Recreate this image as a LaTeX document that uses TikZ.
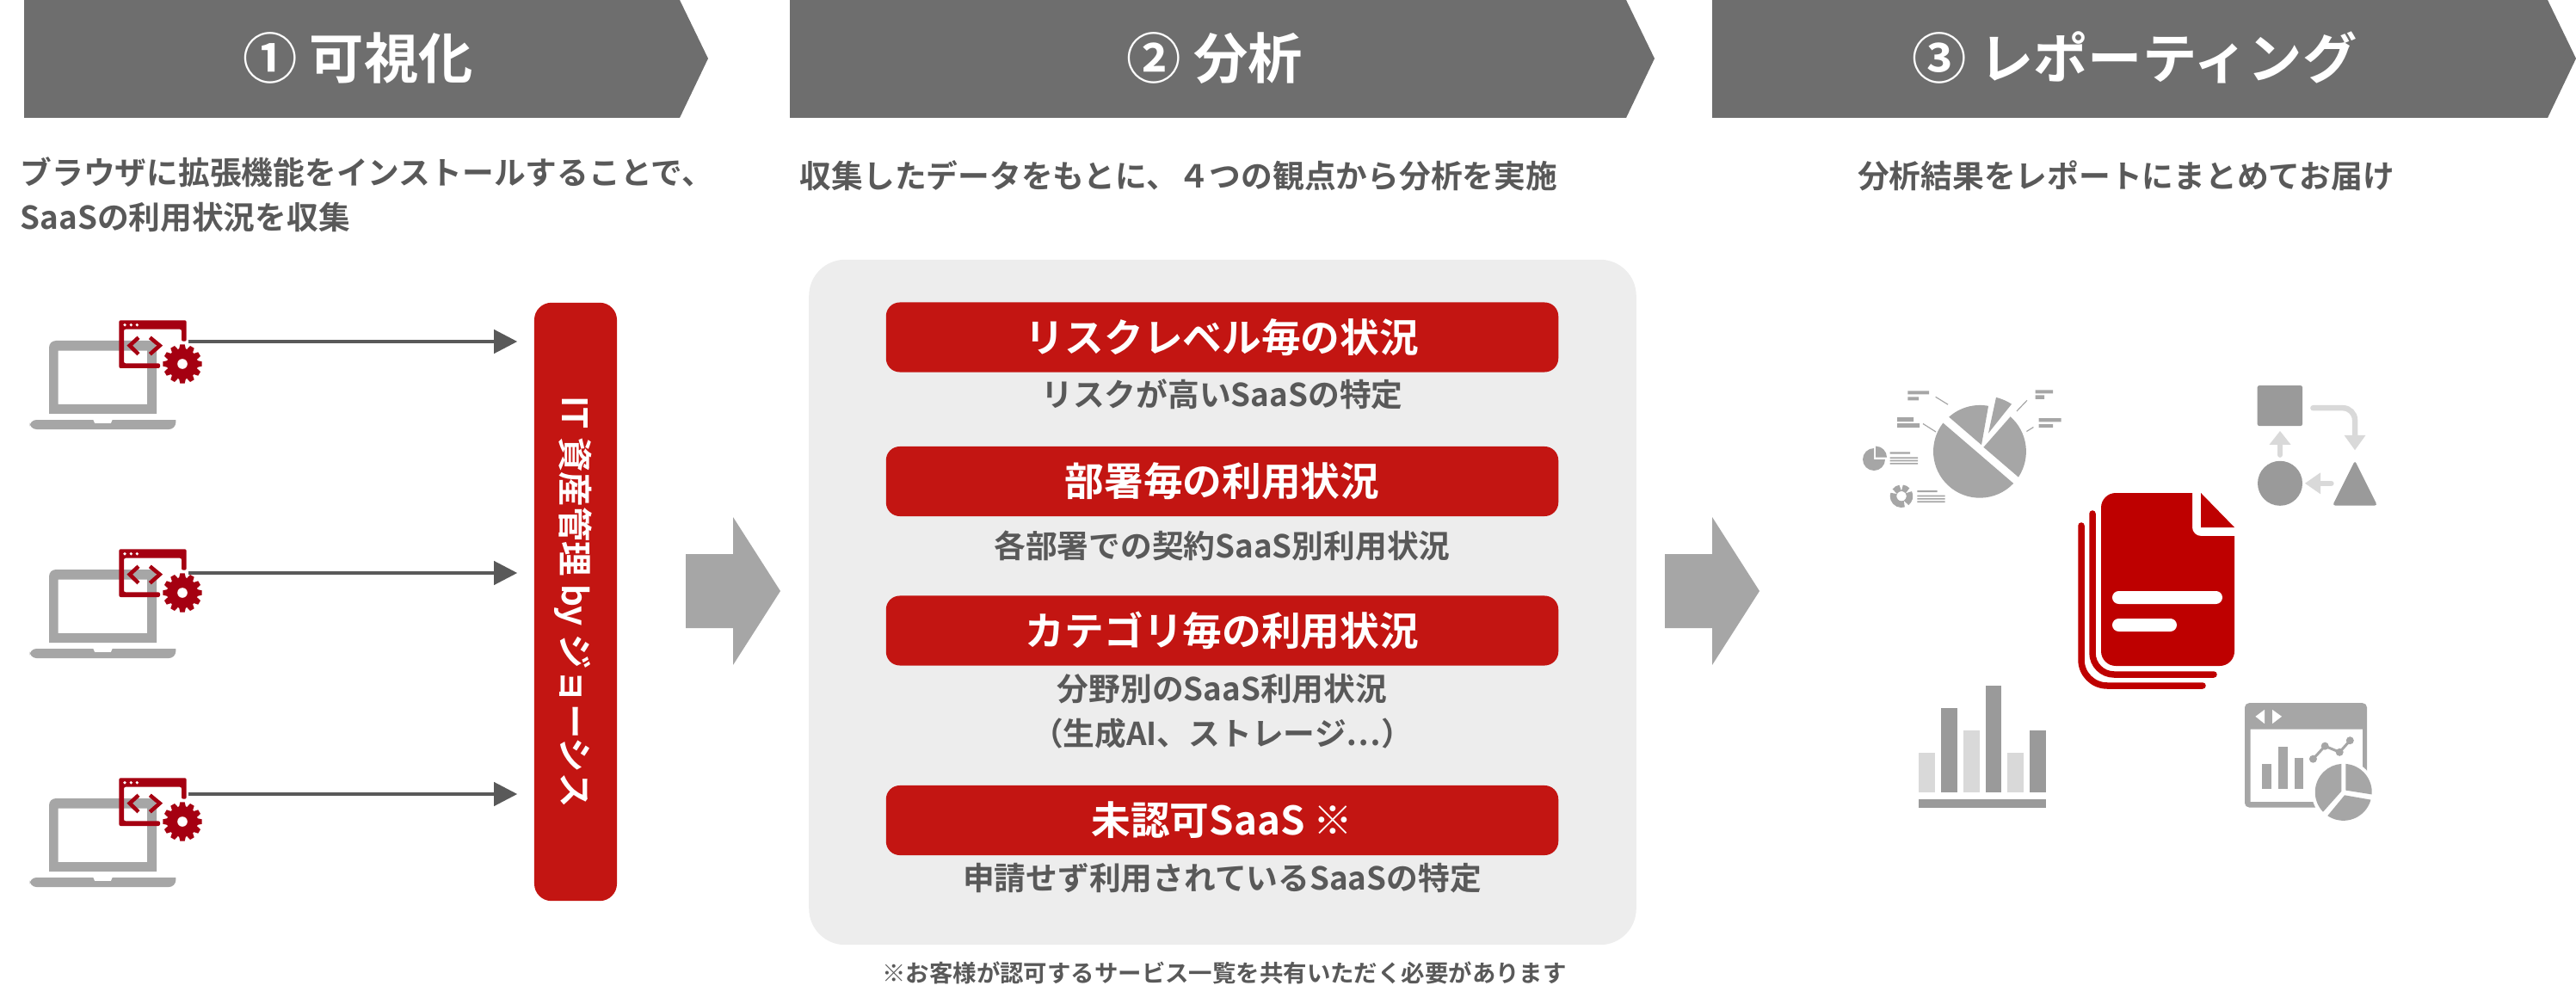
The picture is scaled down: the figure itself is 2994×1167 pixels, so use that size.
\documentclass[tikz,border=0pt]{standalone}
\usepackage{fontspec}
\usepackage{tikz}
\usetikzlibrary{arrows.meta}
\setmainfont{Noto Sans CJK JP}[BoldFont={Noto Sans CJK JP Bold}]

\definecolor{headgray}{HTML}{6E6E6E}
\definecolor{textgray}{HTML}{595959}
\definecolor{icongray}{HTML}{A6A6A6}
\definecolor{shapegray}{HTML}{9A9A9A}
\definecolor{palegray}{HTML}{D9D9D9}
\definecolor{panelgray}{HTML}{EDEDED}
\definecolor{btnred}{HTML}{C31512}
\definecolor{winered}{HTML}{A50011}
\definecolor{docred}{HTML}{BE0000}

\tikzset{
  headshape/.style={fill=headgray},
  headtext/.style={text=white, inner sep=0pt, text height=15.8pt, text depth=2.2pt, font=\bfseries\fontsize{18}{21}\selectfont},
  subtext/.style={text=textgray, inner sep=0pt, text height=9.2pt, text depth=1.2pt, font=\bfseries\fontsize{10.45}{14.6}\selectfont},
  notetext/.style={text=textgray, inner sep=0pt, text height=6.9pt, text depth=0.9pt, font=\bfseries\fontsize{7.8}{10}\selectfont},
  btnbox/.style={fill=btnred, text=white, rounded corners=0.16cm, inner sep=0pt, text height=11.4pt, text depth=1.6pt, minimum width=7.81cm, minimum height=0.81cm, font=\bfseries\fontsize{13}{16}\selectfont},
  panelbox/.style={fill=panelgray, rounded corners=0.42cm, minimum width=9.61cm, minimum height=7.96cm},
  barbox/.style={fill=btnred, text=white, rounded corners=0.2cm, inner sep=0pt, text height=10.1pt, text depth=1.4pt, minimum width=6.95cm, minimum height=0.96cm, rotate=-90, font=\bfseries\fontsize{11.5}{14}\selectfont},
  bigarrow/.style={fill=icongray},
  flow/.style={draw=textgray, line width=0.04cm, shorten >=0.19cm, -{Triangle[length=0.27cm,width=0.27cm]}},
  hairline/.style={draw=icongray, line width=0.012cm},
  ringseg/.style={draw=icongray, line width=0.075cm},
  palearrow/.style={draw=palegray, line width=0.065cm, line cap=round, rounded corners=0.14cm},
  docstroke/.style={draw=docred, line width=0.075cm, line cap=round},
  slit/.style={fill=white, rounded corners=0.075cm},
  laptop/.pic={
    \fill[icongray,even odd rule] (57,481) [rounded corners=0.08cm] -- (57,396) -- (182,396) [sharp corners] -- (182,481) -- cycle (67.7,407.7) rectangle (171,470);
    \fill[icongray,rounded corners=0.06cm] (34.5,488) [sharp corners] -- (108.3,488) -- (110,492) -- (129,492) -- (130.7,488) -- (204.3,488) [rounded corners=0.08cm] -- (204.3,499) -- (34.5,499) -- cycle;
    \fill[winered,rounded corners=0.02cm] (138.3,372.3) -- (216.7,372.3) -- (216.7,396.7) -- (211,396.7) -- (211,382.7) -- (144,382.7) -- (144,422.3) -- (186,422.3) -- (186,428) -- (138.3,428) -- cycle;
    \fill[white] (145,377.7) circle (0.018cm) (152.3,377.7) circle (0.018cm) (159.3,377.7) circle (0.018cm);
    \draw[winered,line width=0.045cm] (161,392.3) -- (150.7,401.7) -- (161,411.7);
    \draw[winered,line width=0.045cm] (174.3,392.3) -- (185.7,401.7) -- (174.3,411.7);
    \fill[winered] (212,423) circle (0.18cm);
    \foreach \a in {0,30,...,330}
      \fill[winered,rotate around={\a:(212,423)}] (207.8,407) -- (209.3,400.3) -- (214.7,400.3) -- (216.2,407) -- cycle;
    \fill[white] (212,423) circle (0.058cm);
  }
}

\begin{document}
\begin{tikzpicture}[x=0.01cm,y=-0.01cm]
\useasboundingbox (0,0) rectangle (2994,1167);
% headers
\fill[headshape] (28,0) -- (790,0) -- (823,68) -- (790,137) -- (28,137) -- cycle;
\fill[headshape] (918,0) -- (1890,0) -- (1923,68) -- (1890,137) -- (918,137) -- cycle;
\fill[headshape] (1990,0) -- (2961,0) -- (2994,68) -- (2961,137) -- (1990,137) -- cycle;
\node[headtext](head1) at (416,68) {① 可視化};
\node[headtext](head2) at (1412,68) {② 分析};
\node[headtext](head3) at (2481,68) {③ レポーティング};
%
\node[subtext,align=left,anchor=west](sub1) at (23,252) {ブラウザに拡張機能をインストールすることで、\\SaaSの利用状況を収集};
\node[subtext](sub2) at (1370,204) {収集したデータをもとに、４つの観点から分析を実施};
\node[subtext](sub3) at (2471,204) {分析結果をレポートにまとめてお届け};
%
% column 1
\pic at (0,0) {laptop};
\pic at (0,266) {laptop};
\pic at (0,532) {laptop};
\node[barbox](itam) at (669,699.5) {IT 資産管理 by ジョーシス};
\coordinate(tail1) at (219,397);
\coordinate(tail2) at (219,666);
\coordinate(tail3) at (219,923);
\draw[flow](tail1) -- (tail1 -| itam.south);
\draw[flow](tail2) -- (tail2 -| itam.south);
\draw[flow](tail3) -- (tail3 -| itam.south);
%
\fill[bigarrow] (797,644) -- (852,644) -- (852,601) -- (907,687) -- (852,773) -- (852,730) -- (797,730) -- cycle;
\fill[bigarrow] (1935,644) -- (1990,644) -- (1990,601) -- (2045,687) -- (1990,773) -- (1990,730) -- (1935,730) -- cycle;
%
% column 2
\node[panelbox](panel) at (1421,700) {};
\node[btnbox](risk) at (1420.5,392) {リスクレベル毎の状況};
\node[subtext](risksub) at (1420.5,458) {リスクが高いSaaSの特定};
%
\node[btnbox](dept) at (1420.5,559.5) {部署毎の利用状況};
\node[subtext](deptsub) at (1420.5,634) {各部署での契約SaaS別利用状況};
%
\node[btnbox](cat) at (1420.5,733) {カテゴリ毎の利用状況};
\node[subtext,align=center](catsub) at (1420.5,852) {分野別のSaaS利用状況\\（生成AI、ストレージ⋯）};
%
\node[btnbox](unauth) at (1420.5,953.5) {未認可SaaS {\mdseries ※}};
\node[subtext](unauthsub) at (1420.5,1020) {申請せず利用されているSaaSの特定};
%
\node[notetext](note) at (1423,1131) {※お客様が認可するサービス一覧を共有いただく必要があります};
%
% column 3: pie chart icon
\fill[icongray] (2301,524.7) ++(43.5:54) arc (43.5:217.8:54) -- cycle;
\fill[icongray] (2303,517.2) -- (2265.2,484.7) arc (228.2:280.5:54) -- cycle;
\fill[icongray] (2320,461.8) .. controls (2327,463.8) and (2333,466.3) .. (2338,469.7) -- (2311,503.6) -- cycle;
\fill[icongray] (2305.4,519.8) -- (2336.6,484.3) arc (-48.6:33.5:54) -- cycle;
%
\fill[icongray] (2217.4,454.4) rectangle (2242,458.4) (2217.4,461.4) rectangle (2230,465.4);
\draw[hairline] (2249.6,461.3) -- (2264,470.2);
\fill[icongray] (2205,485) rectangle (2224,490) (2205,492) rectangle (2231,497);
\draw[hairline] (2235,492.5) -- (2250,502);
\fill[icongray] (2365.6,453.4) rectangle (2386,457.4) (2365.6,459.4) rectangle (2376,464);
\draw[hairline] (2356,465.3) -- (2344,477.9);
\fill[icongray] (2369.6,486) rectangle (2395.5,490.3) (2369.6,493) rectangle (2386,497);
\draw[hairline] (2363.4,496.5) -- (2355.4,501.5);
%
\fill[icongray] (2178,534) -- (2191,534) arc (0:270:13) -- cycle;
\fill[icongray] (2180,531.6) -- (2180,518.6) arc (270:360:13) -- cycle;
\fill[icongray] (2196.7,525.3) rectangle (2220,527.7) (2196.7,531.3) rectangle (2229,533) (2196.7,534.7) rectangle (2229,536.3) (2196.7,538) rectangle (2229,539.7);
%
\draw[ringseg] (2210,576.7) ++(70:9.5) arc (70:200:9.5);
\draw[ringseg] (2210,576.7) ++(215:9.5) arc (215:262:9.5);
\draw[ringseg] (2210,576.7) ++(275:9.5) arc (275:318:9.5);
\draw[ringseg] (2210,576.7) ++(332:9.5) arc (332:415:9.5);
\fill[icongray] (2228.3,570) rectangle (2251.7,572) (2228.3,575.7) rectangle (2260.7,577.3) (2228.3,579) rectangle (2260.7,580.7) (2228.3,582.3) rectangle (2260.7,584);
%
% flow icon
\fill[shapegray,rounded corners=0.02cm] (2623.7,448.2) rectangle (2676,495);
\fill[shapegray] (2650,561.8) circle (0.26cm);
\fill[shapegray,rounded corners=0.03cm] (2737,535.5) -- (2763,587.5) -- (2711,587.5) -- cycle;
\draw[palearrow] (2688.4,474.2) -- (2737,474.2) -- (2737,507);
\fill[palegray] (2724.5,505.9) -- (2749.5,505.9) -- (2737,523.2) -- cycle;
\draw[palearrow] (2650,528.6) -- (2650,516);
\fill[palegray] (2637.5,516.8) -- (2662.5,516.8) -- (2650,501) -- cycle;
\draw[palearrow] (2709.4,561.8) -- (2696,561.8);
\fill[palegray] (2697,549.3) -- (2697,574.3) -- (2679,561.8) -- cycle;
%
% report icon
\fill[docred] [rounded corners=0.17cm] (2497,774) -- (2442,774) -- (2442,573) [sharp corners] -- (2548,573) [rounded corners=0.1cm] -- (2548,623) [sharp corners] -- (2597,623) [rounded corners=0.17cm] -- (2597,774) -- cycle;
\fill[docred] (2558,573) -- (2597,613) -- (2558,613) -- cycle;
\fill[slit] (2455,687) rectangle (2583,702);
\fill[slit] (2455,719) rectangle (2530,734);
\draw[docstroke,rounded corners=0.25cm] (2432,597) -- (2432,784) -- (2573,784);
\draw[docstroke,rounded corners=0.3cm] (2419,611) -- (2419,797) -- (2560,797);
%
% bar chart icon
\fill[palegray] (2230,874.9) rectangle (2249,920.8);
\fill[shapegray] (2255.8,822.8) rectangle (2275,920.8);
\fill[palegray] (2281.7,849) rectangle (2301,920.8);
\fill[shapegray] (2307.6,797) rectangle (2326.3,920.8);
\fill[palegray] (2333,874.9) rectangle (2352,920.8);
\fill[shapegray] (2359,849) rectangle (2378,920.8);
\fill[shapegray] (2230,929) rectangle (2378,938.5);
%
% dashboard icon
\fill[icongray,even odd rule,rounded corners=0.05cm] (2609,817.2) rectangle (2751,938.5) (2615.6,847.5) [sharp corners] rectangle (2746,932.2);
\fill[white] (2723.7,920.8) circle (0.37cm);
\fill[white] (2621.4,832.8) -- (2632,824.9) -- (2632,841.2) -- cycle;
\fill[white] (2641,824.9) -- (2641,841.2) -- (2652,832.8) -- cycle;
\fill[icongray] (2629,887.5) rectangle (2639.8,916.8);
\fill[icongray] (2647.8,867.5) rectangle (2658.5,916.8);
\fill[icongray] (2666.5,880.7) rectangle (2676.8,916.8);
\draw[icongray,line width=0.03cm] (2688.4,882.2) -- (2702.2,867.2) -- (2719.2,874.3) -- (2731.3,860.7);
\fill[icongray] (2688.4,882.2) circle (0.045cm) (2702.2,867.2) circle (0.045cm) (2719.2,874.3) circle (0.045cm) (2731.3,860.7) circle (0.045cm);
\fill[icongray] (2721.4,919.7) -- (2700,943.7) arc (136:266:33) -- cycle;
\fill[icongray] (2726.3,918.6) -- (2726.3,887.9) arc (-85.5:4.5:33) -- cycle;
\fill[icongray] (2725,924.3) -- (2755.5,929.6) arc (15.4:124:33) -- cycle;
\end{tikzpicture}
\end{document}
